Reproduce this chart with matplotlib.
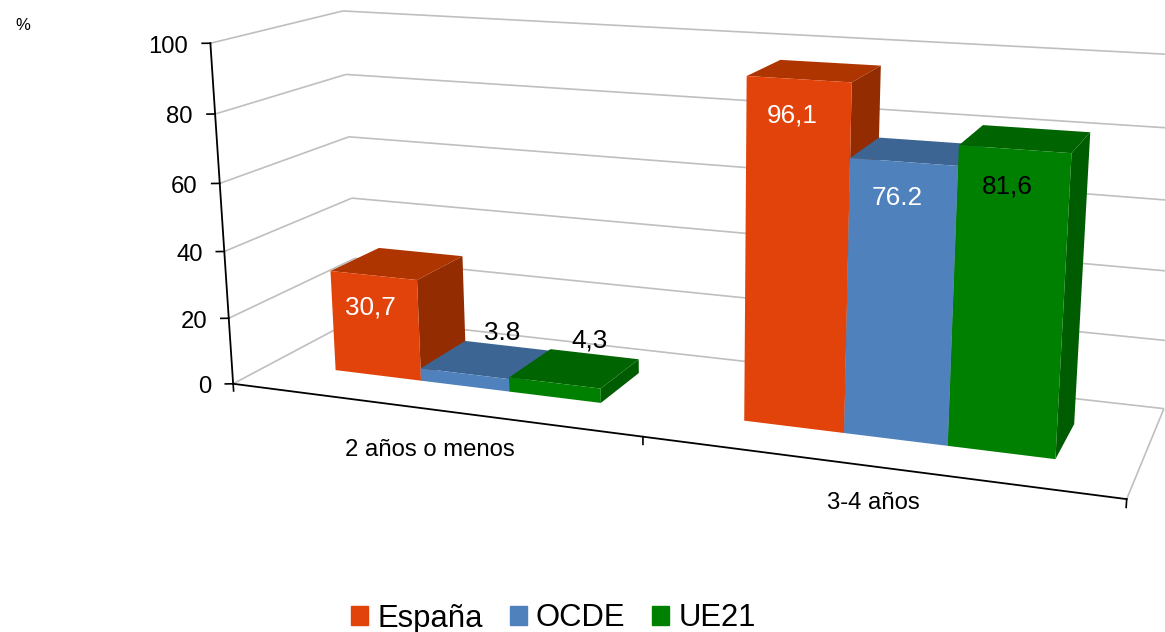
import numpy as np
import matplotlib
matplotlib.use('Agg')
import matplotlib.pyplot as plt
from matplotlib.patches import Patch
from mpl_toolkits.mplot3d.art3d import Line3DCollection

plt.rcParams['font.family'] = ['Liberation Sans', 'DejaVu Sans']

# data
categories = ['2 años o menos', '3-4 años']
series = ['España', 'OCDE', 'UE21']
espana = [30.7, 96.1]
ocde = [3.8, 76.2]
ue21 = [4.3, 81.6]
etiquetas = [['30,7', '96,1'], ['3.8', '76.2'], ['4,3', '81,6']]
yticks = [0, 20, 40, 60, 80, 100]

# colours: front, top, side
colores = [('#E2430A', '#AF3500', '#932C00'),
           ('#4F81BD', '#3D6594', '#3A5F8C'),
           ('#008000', '#006400', '#005C00')]
color_etiqueta = [['white', 'white'], ['black', 'white'], ['black', 'black']]

# camera fit: world (cat, depth, value) -> picture pixel
anclas = [((0, 0, 0), (233, 384)), ((0, 0, 20), (229, 318)), ((0, 0, 40), (224, 252)),
          ((0, 0, 60), (220, 183)), ((0, 0, 80), (216, 114)), ((0, 0, 100), (210, 43)),
          ((0, 1, 100), (342, 11)), ((0, 1, 80), (347, 74)), ((0, 1, 60), (348, 137)),
          ((0, 1, 40), (352, 198)), ((0, 1, 0), (358, 318)),
          ((1, 0, 0), (642, 437)), ((2, 0, 0), (1127, 499)),
          ((2, 1, 0), (1164, 408)), ((2, 1, 100), (1188, 56))]


def fit_camera(pts):
    A, b = [], []
    for (X, Y, Z), (u, v) in pts:
        A.append([X, Y, Z, 1, 0, 0, 0, 0, -u * X, -u * Y, -u * Z])
        b.append(u)
        A.append([0, 0, 0, 0, X, Y, Z, 1, -v * X, -v * Y, -v * Z])
        b.append(v)
    s = np.linalg.lstsq(np.array(A, float), np.array(b, float), rcond=None)[0]
    return np.append(s, 1.0).reshape(3, 4)


P = fit_camera(anclas)
W, H = 1165, 632

fig = plt.figure(figsize=(W / 100, H / 100), dpi=100)
# square axes as wide as the figure, apply_aspect keeps it
ax = fig.add_axes([0, 0.5 - 0.5 * W / H, 1, W / H], projection='3d', computed_zorder=False)
ax.set_axis_off()
ax.xaxis.set_visible(False)
ax.yaxis.set_visible(False)
ax.zaxis.set_visible(False)


def get_proj():
    T = ax.transData.inverted().get_matrix()
    D = np.array([[1, 0, 0], [0, -1, H], [0, 0, 1]], float)
    top = T @ D @ P
    return np.vstack([top[0], top[1], [0, 1, 0, 0], top[2]])


ax.get_proj = get_proj


def texto(x, y, z, s, **kw):
    # text at a world point, as plain figure text
    q = P @ np.array([x, y, z, 1.0])
    fig.text(q[0] / q[2] / W, 1 - q[1] / q[2] / H, s, **kw)


# walls
segs = []
for z in yticks:
    segs.append([(0, 0, z), (0, 1, z)])
    segs.append([(0, 1, z), (2, 1, z)])
segs.append([(2, 0, 0), (2, 1, 0)])
ax.add_collection3d(Line3DCollection(segs, colors='#BFBFBF', linewidths=1.2, zorder=1))

# axes
ax.plot([0, 0], [0, 0], [0, 100], color='black', lw=1.3, zorder=1.5)
ax.plot([0, 2], [0, 0], [0, 0], color='black', lw=1.3, zorder=1.5)
for z in yticks:
    ax.plot([-0.0161, 0], [-0.0124, 0], [z, z], color='black', lw=1.2, zorder=1.5)
    texto(-0.0443, -0.0341, z - 0.9, str(z), ha='right', va='center', fontsize=17.2)
for x in [0, 1, 2]:
    ax.plot([x, x], [0, 0], [0, -2.2], color='black', lw=1.2, zorder=1.5)

texto(0.495, 0, -12.4, categories[0], ha='center', va='center', fontsize=17.2)
texto(1.5, 0, -10.1, categories[1], ha='center', va='center', fontsize=17.2)

# bars
ANCHO = 1 / 4.5
Y0, Y1 = 0.3, 0.7
valores = [espana, ocde, ue21]
TRANSP = (0, 0, 0, 0)
zo = 2
for c in range(2):
    for s in range(3):
        v = valores[s][c]
        x0 = c + (1 - 3 * ANCHO) / 2 + s * ANCHO
        fr, tp, sd = colores[s]
        # faces: bottom, top, front, back, left, right
        ax.bar3d([x0], [Y0], [0], ANCHO, Y1 - Y0, v,
                 color=[TRANSP, tp, fr, TRANSP, TRANSP, sd], shade=False,
                 linewidth=0, zorder=zo)
        zo += 1
        # low bars carry the label behind the top, high ones on the front
        if v < 10:
            texto(x0 + ANCHO / 2 - 0.012, Y1, v + 4, etiquetas[s][c], ha='center', va='center',
                  fontsize=18.8, color=color_etiqueta[s][c])
        else:
            texto(x0 + ANCHO / 2 - 0.012, Y0, v - 9.8, etiquetas[s][c], ha='center', va='center',
                  fontsize=18.8, color=color_etiqueta[s][c])

fig.text(15 / W, 1 - 25 / H, '%', fontsize=12, va='center')

handles = [Patch(color=colores[i][0], label=series[i]) for i in range(3)]
fig.legend(handles=handles, loc='center', bbox_to_anchor=(553.5 / W, 1 - 618.5 / H), ncol=3,
           frameon=False, fontsize=22.3, handlelength=0.55, handleheight=0.55,
           handletextpad=0.3, columnspacing=0.87, borderpad=0)

fig.savefig('out.png', dpi=100)
